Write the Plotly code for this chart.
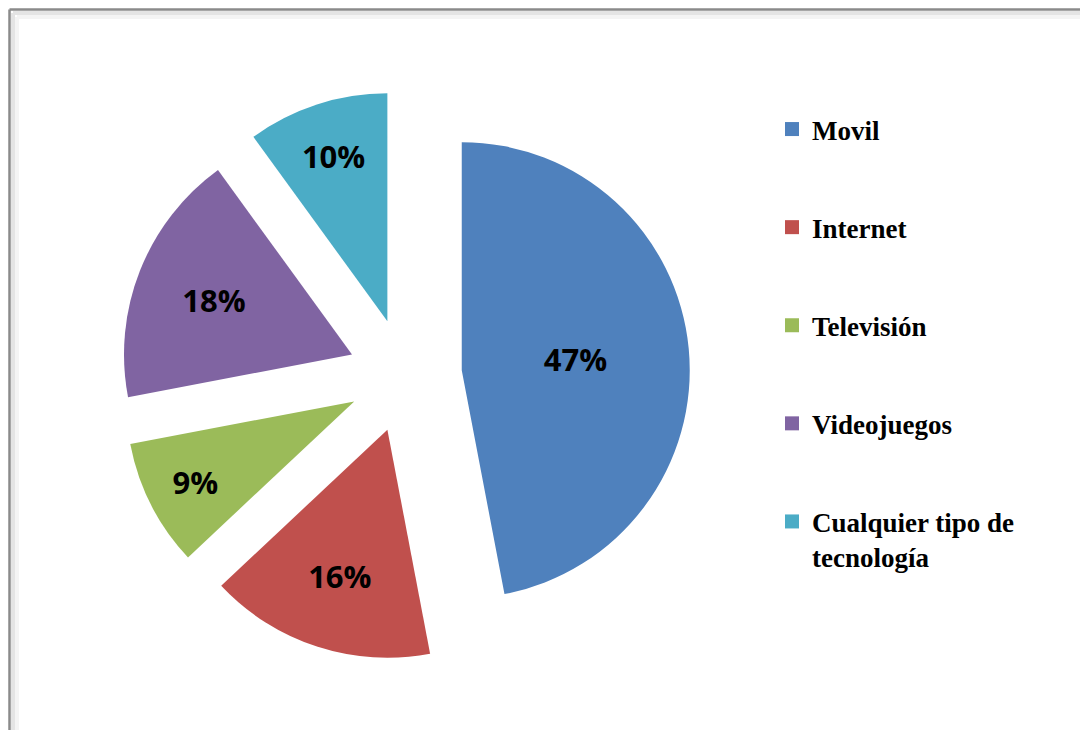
import plotly.graph_objects as go

# Data
categorias = ["Movil", "Internet", "Televisión", "Videojuegos", "Cualquier tipo de<br>tecnología"]
porcentajes = [47, 16, 9, 18, 10]
colores = ["#4F81BD", "#C0504D", "#9BBB59", "#8064A2", "#4BACC6"]

# page body has an 8px margin on each side; keep the figure inside the window
W, H = 1072, 722

fig = go.Figure()

# Exploded pie, every slice pulled out
fig.add_trace(go.Pie(
    labels=categorias,
    values=porcentajes,
    sort=False,
    direction="clockwise",
    rotation=0,
    pull=[0.25] * len(porcentajes),
    marker=dict(colors=colores, line=dict(width=0)),
    texttemplate="%{percent:.0%}",
    textposition="inside",
    insidetextorientation="horizontal",
    textfont=dict(family="Open Sans", size=31, color="black", weight="bold"),
    hoverinfo="label+percent",
    showlegend=False,
    domain=dict(x=[112 / W, 682 / W], y=[69.5 / H, 639.5 / H]),
))

# Legend entries (one group each so the gap can be set)
for lab, col in zip(categorias, colores):
    fig.add_trace(go.Scatter(
        x=[None], y=[None], mode="markers", name=lab, legendgroup=lab,
        marker=dict(symbol="square", size=14, color=col),
        hoverinfo="skip",
    ))

# Chart frame: only the left and top edges show, with a soft inner shadow
for off, col, wd in [(9, "#f4f4f4", 4), (5, "#e4e4e4", 4), (1.5, "#8a8a8a", 2.5)]:
    fig.add_shape(type="line", xref="paper", yref="paper",
                  x0=off / W, y0=0, x1=off / W, y1=1 - off / H,
                  line=dict(color=col, width=wd), layer="below")
    fig.add_shape(type="line", xref="paper", yref="paper",
                  x0=off / W, y0=1 - off / H, x1=1, y1=1 - off / H,
                  line=dict(color=col, width=wd), layer="below")

fig.update_layout(
    width=W, height=H,
    margin=dict(l=0, r=0, t=0, b=0),
    paper_bgcolor="white",
    plot_bgcolor="white",
    xaxis=dict(visible=False),
    yaxis=dict(visible=False),
    legend=dict(
        x=764 / W, y=1 - 97 / H, xanchor="left", yanchor="top",
        font=dict(family="Liberation Serif", size=27, color="black", weight="bold"),
        tracegroupgap=60, valign="top", bgcolor="rgba(0,0,0,0)",
    ),
)

fig.write_html("out.html")
